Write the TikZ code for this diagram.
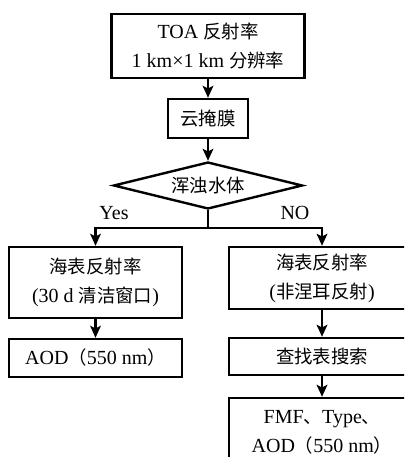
\documentclass[tikz,border=0pt]{standalone}
\usepackage{fontspec}
\setmainfont{Liberation Serif}
\newfontfamily\cjk[Scale=0.92]{Noto Sans CJK SC}
\newcommand{\zh}[1]{{\cjk #1}}
\usetikzlibrary{shapes.geometric,arrows.meta}

\begin{document}
\begin{tikzpicture}[x=0.75pt, y=-0.75pt, >={Stealth[length=9pt,width=8pt,inset=2pt]},
  every node/.style={font=\fontsize{15}{22}\selectfont, align=center, inner sep=0pt},
  box/.style={draw, line width=1.8pt},
  flow/.style={line width=1.6pt}]
  \useasboundingbox (0,0) rectangle (404,457);
  \clip (0,0) rectangle (404,457);

  % upper chain
  \node[box, minimum width=144.75pt, minimum height=48pt] (toa) at (208,46)
    {TOA \zh{反射率}\\1 km×1 km \zh{分辨率}};
  \node[box, minimum width=60pt, minimum height=29.25pt] (cloud) at (208,118.5) {\zh{云掩膜}};
  \node[box, diamond, aspect=4, minimum width=141.75pt, minimum height=35.25pt] (turbid) at (208,185.5)
    {\zh{浑浊水体}};
  \coordinate (split) at (208,228);

  % left branch
  \node[box, minimum width=129.75pt, minimum height=53.25pt] (seaL) at (95.5,282.5)
    {\zh{海表反射率}\\(30 d \zh{清洁窗口})};
  \node[box, minimum width=129.75pt, minimum height=28.5pt] (aodL) at (95.5,358)
    {AOD\zh{（}550 nm\zh{）}};

  % right branch
  \node[box, minimum width=139.5pt, minimum height=46.5pt] (seaR) at (322,278)
    {\zh{海表反射率}\\(\zh{非涅耳反射})};
  \node[box, minimum width=139.5pt, minimum height=27.75pt] (lut) at (322,356.5) {\zh{查找表搜索}};
  \node[box, minimum width=139.5pt, minimum height=51pt] (out) at (322,432)
    {\fontsize{15}{19}\selectfont FMF\zh{、}Type\zh{、}\\AOD\zh{（}550 nm\zh{）}};

  \node (yes) at (114,213) {Yes};
  \node (no) at (295,213) {NO};

  \draw[flow, ->] (toa) -- (cloud);
  \draw[flow, ->] (cloud) -- (turbid);
  \draw[flow] (turbid.south) -- (split);
  \draw[flow, ->] (split) -| (seaL);
  \draw[flow, ->] (split) -| (seaR);
  \draw[flow, ->] (seaL) -- (aodL);
  \draw[flow, ->] (seaR) -- (lut);
  \draw[flow, ->] (lut) -- (out);
\end{tikzpicture}
\end{document}
